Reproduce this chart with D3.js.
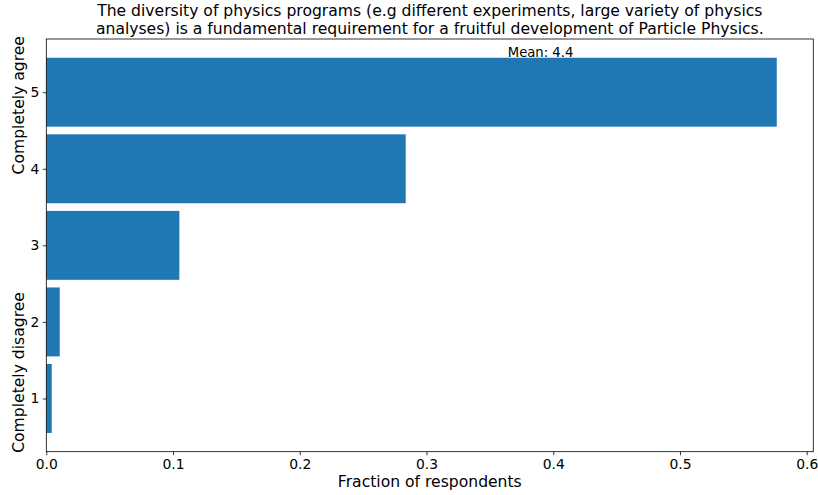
<!DOCTYPE html>
<html>
<head>
<meta charset="utf-8">
<script src="https://cdn.jsdelivr.net/npm/d3@7"></script>
<style>
  html, body { margin: 0; padding: 0; background: #fff; }
  svg { display: block; font-family: "DejaVu Sans", sans-serif; }
</style>
</head>
<body>
<svg id="chart" width="818" height="495"></svg>
<script>
// Data
const categories = [1, 2, 3, 4, 5];
const fractions = [0.0043, 0.0106, 0.105, 0.2836, 0.5764];
const xTicks = [0.0, 0.1, 0.2, 0.3, 0.4, 0.5, 0.6];
const titleLines = [
  "The diversity of physics programs (e.g different experiments, large variety of physics",
  "analyses) is a fundamental requirement for a fruitful development of Particle Physics."
];
const meanLabel = "Mean: 4.4";
const yLabels = [
  { text: "Completely agree", y: 4.83 },
  { text: "Completely disagree", y: 1.34 }
];

const svg = d3.select("#chart");
const margin = { left: 46.3, right: 818 - 813.3, top: 39, bottom: 495 - 451.7 };
const W = 818, H = 495;
const x0 = margin.left, x1 = W - margin.right, y0 = H - margin.bottom, y1 = margin.top;

const xMax = d3.max(fractions) * 1.05;
const x = d3.scaleLinear().domain([0, xMax]).range([x0, x1]);
const y = d3.scaleLinear().domain([0.305, 5.695]).range([y0, y1]);
const barH = 0.9;

// Bars
svg.append("g").selectAll("rect")
  .data(categories.map((c, i) => ({ c, v: fractions[i] })))
  .join("rect")
  .attr("x", x(0))
  .attr("y", d => y(d.c + barH / 2))
  .attr("width", d => x(d.v) - x(0))
  .attr("height", d => y(d.c - barH / 2) - y(d.c + barH / 2))
  .attr("fill", "#1f77b4");

// Axes
const xAxis = d3.axisBottom(x).tickValues(xTicks).tickFormat(d3.format(".1f")).tickSize(3.5).tickPadding(3.5);
const gx = svg.append("g").attr("transform", `translate(0,${y0})`).call(xAxis);
const yAxis = d3.axisLeft(y).tickValues(categories).tickFormat(d3.format("d")).tickSize(3.5).tickPadding(3.5);
const gy = svg.append("g").attr("transform", `translate(${x0},0)`).call(yAxis);
[gx, gy].forEach(g => {
  g.select(".domain").remove();
  g.selectAll("text").attr("font-size", "13.9px").attr("fill", "#000").attr("font-family", "DejaVu Sans, sans-serif");
  g.selectAll("line").attr("stroke", "#000").attr("stroke-width", 0.8);
});

// Frame
svg.append("rect")
  .attr("x", x0).attr("y", y1)
  .attr("width", x1 - x0).attr("height", y0 - y1)
  .attr("fill", "none").attr("stroke", "#000").attr("stroke-width", 0.8);

// Title
svg.append("text")
  .attr("text-anchor", "middle")
  .attr("font-size", "15.6px")
  .selectAll("tspan")
  .data(titleLines)
  .join("tspan")
  .attr("x", (x0 + x1) / 2)
  .attr("y", (d, i) => 16 + i * 17.5)
  .text(d => d);

// Mean label
svg.append("text")
  .attr("x", x(0.39))
  .attr("y", y(5.466))
  .attr("text-anchor", "middle")
  .attr("font-size", "13.2px")
  .text(meanLabel);

// X label
svg.append("text")
  .attr("x", (x0 + x1) / 2)
  .attr("y", 487)
  .attr("text-anchor", "middle")
  .attr("font-size", "15.6px")
  .text("Fraction of respondents");

// Y labels
svg.append("g").selectAll("text")
  .data(yLabels)
  .join("text")
  .attr("transform", d => `translate(24,${y(d.y)}) rotate(-90)`)
  .attr("text-anchor", "middle")
  .attr("font-size", "15.6px")
  .text(d => d.text);
</script>
</body>
</html>
